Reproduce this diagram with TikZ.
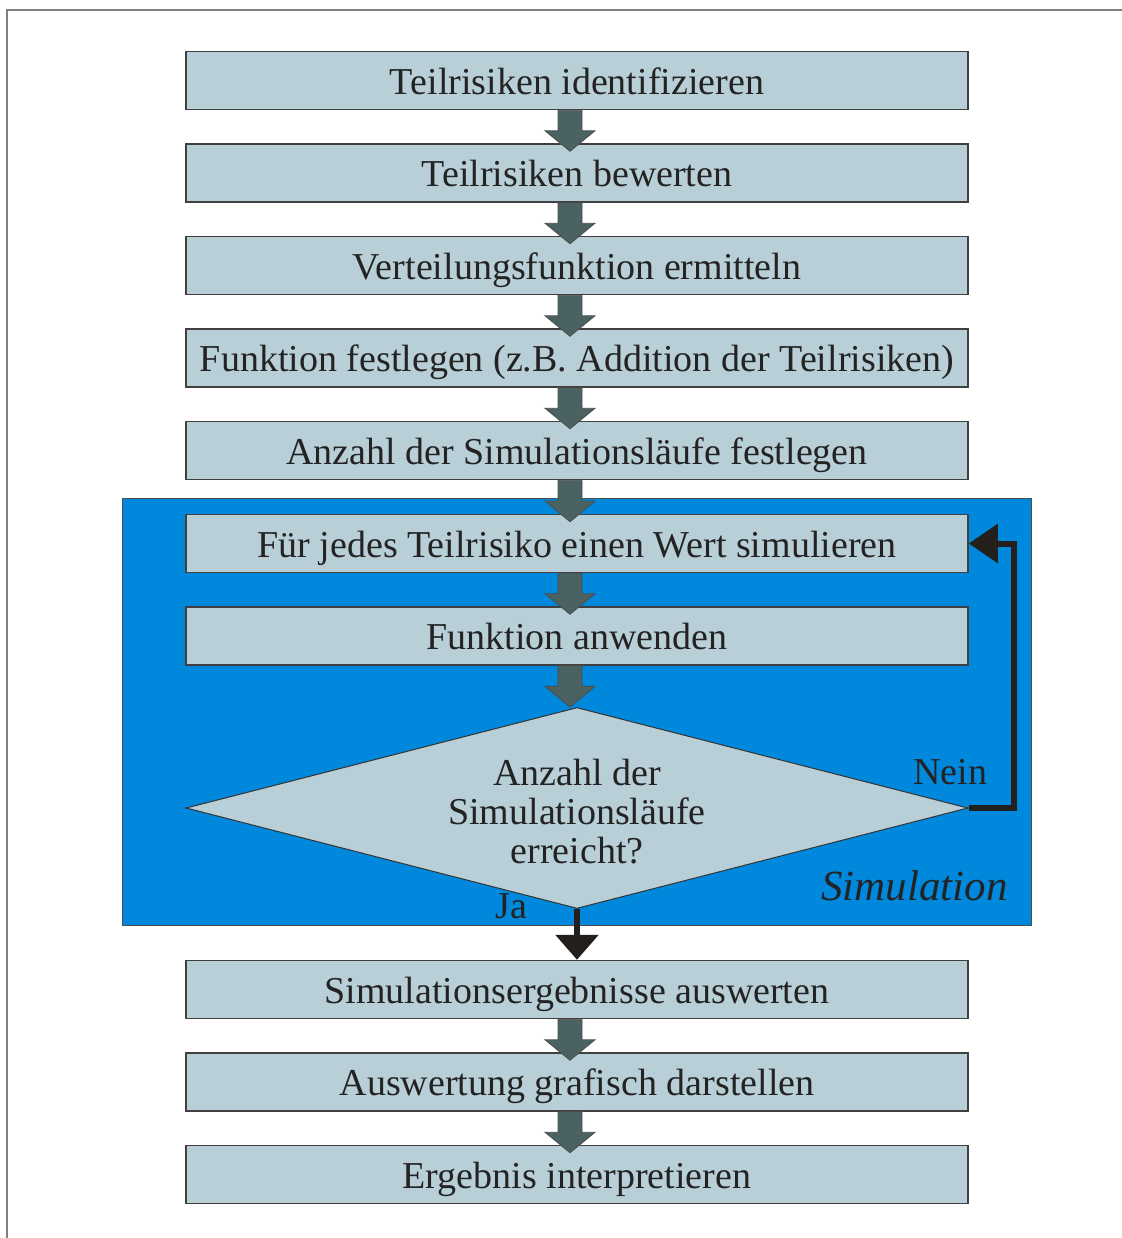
\documentclass[tikz,border=0pt]{standalone}
\usepackage{fontspec}
\setmainfont{Liberation Serif}
\usetikzlibrary{shapes.geometric, arrows.meta, calc}
\definecolor{boxfill}{RGB}{184,207,216}
\definecolor{simblue}{RGB}{0,136,221}
\definecolor{arrowfill}{RGB}{74,98,98}
\definecolor{darkline}{RGB}{35,31,28}
\definecolor{textgray}{RGB}{35,35,35}
\newcommand{\flowarrow}[3][8]{%
	\coordinate (s) at ($(#2.south)+(-7,0)$);
	\coordinate (t) at ($(#3.north)+(-7,#1)$);
	\coordinate (m) at ($(s)!0.5!(t)$);
	\draw[blockarrow] ($(s)+(-12,0)$) -- ($(s)+(12,0)$) -- ($(m)+(12,0)$) -- ($(m)+(25,0)$) -- (t) -- ($(m)+(-25,0)$) -- ($(m)+(-12,0)$) -- cycle;}
\begin{document}
\begin{tikzpicture}[x=0.5pt, y=-0.5pt,
		stepbox/.style={draw=black!75, line width=0.75pt, fill=boxfill, minimum width=391pt, minimum height=29pt, inner sep=0pt, text height=17.5pt, text depth=4pt, font=\fontsize{19pt}{19.5pt}\selectfont, text=textgray},
		decision/.style={diamond, aspect=3.9, draw=black!80, line width=0.5pt, fill=boxfill, minimum width=391pt, minimum height=100.5pt, inner sep=0pt, align=center, font=\fontsize{19pt}{19.5pt}\selectfont, text=textgray},
		blockarrow/.style={fill=arrowfill, draw=black!70, line width=0.4pt},
		answer/.style={font=\fontsize{19pt}{19.5pt}\selectfont, text=textgray, inner sep=0pt},
		yesarrow/.style={->, >={Triangle[length=12.5pt, width=21pt]}, line width=3pt, darkline},
		noarrow/.style={->, >={Triangle[length=14.5pt, width=19pt]}, line width=3pt, darkline}]
	\useasboundingbox (0,0) rectangle (1122,1238);
	\draw[black!50, line width=1pt] (7,1245) -- (7,10) -- (1130,10);
	\draw[fill=simblue, draw=black!70, line width=0.5pt] (122,498) rectangle (1031,925);
	\node[stepbox] (ident) at (577,80.5) {Teilrisiken identifizieren};
	\node[stepbox] (rate) at (577,173) {Teilrisiken bewerten};
	\node[stepbox] (distr) at (577,265.5) {Verteilungsfunktion ermitteln};
	\node[stepbox] (func) at (577,358) {Funktion festlegen (z.B. Addition der Teilrisiken)};
	\node[stepbox] (runs) at (577,450.5) {Anzahl der Simulationsläufe festlegen};
	\node[stepbox] (sim) at (577,543.5) {Für jedes Teilrisiko einen Wert simulieren};
	\node[stepbox] (apply) at (577,636) {Funktion anwenden};
	\node[decision] (dec) at (577,808) {\rule{0pt}{17pt}Anzahl der\\Simulationsläufe\\erreicht?};
	\node[stepbox] (eval) at (577,989.5) {Simulationsergebnisse auswerten};
	\node[stepbox] (graph) at (577,1082) {Auswertung grafisch darstellen};
	\node[stepbox] (interp) at (577,1174.5) {Ergebnis interpretieren};
	\node[answer, anchor=base east] (nein) at ($(dec.east)+(19,-24)$) {Nein};
	\node[answer, anchor=base west] (ja) at ($(dec.south)+(-82,9)$) {Ja};
	\node[font=\fontsize{21.5pt}{24pt}\selectfont\itshape, text=textgray, inner sep=0pt, anchor=base east] (simlabel) at (1008,900) {Simulation};
	\flowarrow{ident}{rate}
	\flowarrow{rate}{distr}
	\flowarrow{distr}{func}
	\flowarrow{func}{runs}
	\flowarrow{runs}{sim}
	\flowarrow{sim}{apply}
	\flowarrow[0]{apply}{dec}
	\flowarrow{eval}{graph}
	\flowarrow{graph}{interp}
	\draw[yesarrow] (dec.south) -- (dec.south |- eval.north);
	\draw[noarrow] (dec.east) -- ++(45,0) |- (sim.east);
\end{tikzpicture}
\end{document}
